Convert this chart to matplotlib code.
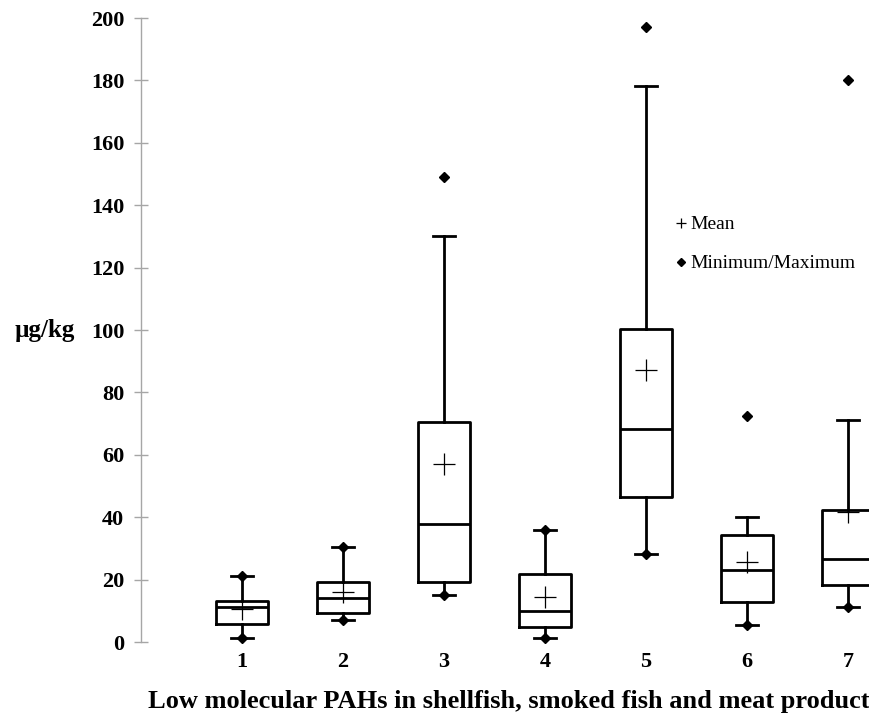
import matplotlib
matplotlib.use("Agg")
import matplotlib.pyplot as plt
from matplotlib.lines import Line2D

# ---- data ----
categories = ["1", "2", "3", "4", "5", "6", "7"]
q1      = [5.9, 9.4, 19.1, 4.7, 46.5, 12.7, 18.3]
median  = [11.3, 14.0, 37.8, 10.0, 68.3, 23.0, 26.6]
q3      = [13.1, 19.3, 70.6, 21.9, 100.2, 34.3, 42.2]
whis_lo = [1.4, 7.0, 15.0, 1.4, 28.1, 5.4, 11.2]
whis_hi = [21.2, 30.5, 130.1, 35.8, 178.2, 40.0, 71.2]
means   = [10.7, 15.9, 57.1, 14.4, 87.1, 25.5, 41.6]
minimum = [1.4, 7.0, 15.0, 1.4, 28.1, 5.4, 11.2]
maximum = [21.2, 30.5, 149.0, 35.8, 197.2, 72.5, 180.1]
yticks = list(range(0, 201, 20))

plt.rcParams['font.family'] = ['Liberation Serif', 'DejaVu Serif']

W, H = 870, 713
fig = plt.figure(figsize=(W / 100, H / 100), dpi=100)
ax = fig.add_axes([141 / W, 71 / H, 1 - 141 / W, 624 / H])

positions = list(range(1, len(categories) + 1))
stats = []
for i in range(len(categories)):
    stats.append(dict(med=median[i], q1=q1[i], q3=q3[i],
                      whislo=whis_lo[i], whishi=whis_hi[i],
                      mean=means[i], fliers=[], label=categories[i]))

lw = 2.0
ax.bxp(stats, positions=positions, widths=0.505, showmeans=True,
       showfliers=False, capwidths=0.21,
       boxprops=dict(color='black', linewidth=lw),
       whiskerprops=dict(color='black', linewidth=lw),
       capprops=dict(color='black', linewidth=lw),
       medianprops=dict(color='black', linewidth=lw),
       meanprops=dict(marker='+', markeredgecolor='black', markersize=16,
                      markeredgewidth=0.9, linestyle='none'))

ax.plot(positions, minimum, linestyle='none', marker='D', color='black',
        markersize=5.5, zorder=5, clip_on=False)
ax.plot(positions, maximum, linestyle='none', marker='D', color='black',
        markersize=5.5, zorder=5, clip_on=False)

ax.set_xlim(0, (W - 141) / 101)
ax.set_ylim(0, 200)
ax.set_yticks(yticks)
ax.set_yticklabels([str(t) for t in yticks], fontweight='bold', fontsize=16)
ax.set_xticks(positions)
ax.set_xticklabels(categories, fontweight='bold', fontsize=16)

for s in ['top', 'right', 'bottom']:
    ax.spines[s].set_visible(False)
ax.spines['left'].set_color('#a6a6a6')
ax.spines['left'].set_linewidth(1.0)
ax.tick_params(axis='y', direction='inout', length=10, color='#a6a6a6',
               width=1.0, pad=7)
ax.tick_params(axis='x', length=0, pad=7)

# y-axis title (horizontal, left of tick labels)
fig.text(45 / W, 1 - 330 / H, 'µg/kg', fontweight='bold', fontsize=18,
         ha='center', va='center')

# x-axis title (runs off the right edge, as in the reference)
fig.text(148 / W, 1 - 708 / H,
         'Low molecular PAHs in shellfish, smoked fish and meat products',
         fontweight='bold', fontsize=19, ha='left', va='baseline')

handles = [Line2D([], [], linestyle='none', marker='+', color='black',
                  markersize=7, markeredgewidth=0.9),
           Line2D([], [], linestyle='none', marker='D', color='black',
                  markersize=4)]
ax.legend(handles, ['Mean', 'Minimum/Maximum'], frameon=False,
          loc='upper left', bbox_to_anchor=((668 - 141) / 729, (642 - 208) / 624),
          fontsize=14, handlelength=0.5, handletextpad=0.25, labelspacing=1.1,
          borderaxespad=0)

fig.savefig('out.png', dpi=100)
